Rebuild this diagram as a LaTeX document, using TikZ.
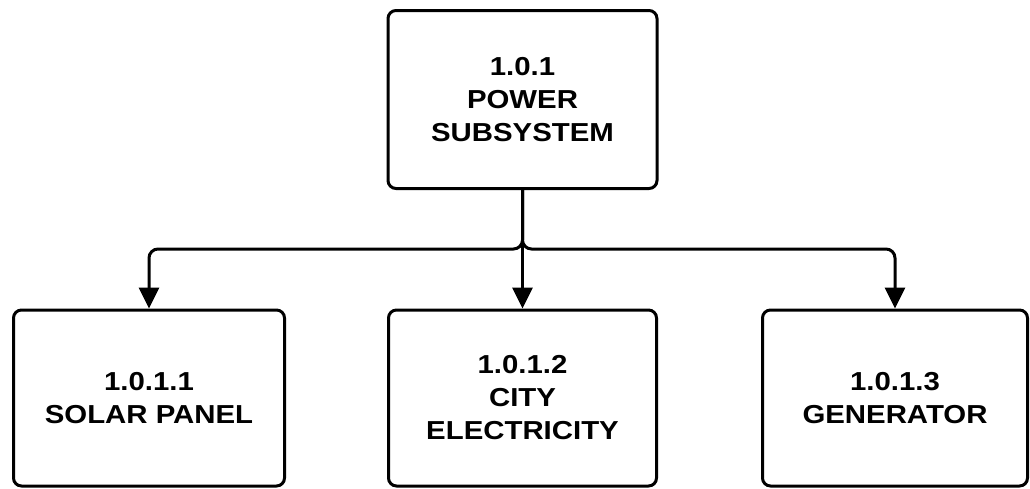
\documentclass[tikz,border=0pt]{standalone}
\usepackage{fontspec}
\newfontfamily\labfont{Liberation Sans Bold}[FakeStretch=1.13]
\usetikzlibrary{arrows.meta}
\tikzset{
  box/.style={draw=black, line width=3pt, rounded corners=8pt, align=center,
    inner sep=0pt, font=\labfont\fontsize{26}{33}\selectfont, text=black},
  conn/.style={draw=black, line width=3pt, rounded corners=9pt,
    -{Triangle[width=20pt,length=21pt]}}
}
\begin{document}
\begin{tikzpicture}[x=1pt,y=-1pt]
\useasboundingbox[fill=white] (0,0) rectangle (1030,488);
\node[box, minimum width=269pt, minimum height=178pt] (top) at (522.5,99.5) {1.0.1\\POWER\\SUBSYSTEM};
\node[box, minimum width=271pt, minimum height=176pt] (solar) at (149,398) {1.0.1.1\\SOLAR PANEL};
\node[box, minimum width=268pt, minimum height=176pt] (city) at (522.5,398) {1.0.1.2\\CITY\\ELECTRICITY};
\node[box, minimum width=265pt, minimum height=176pt] (gen) at (895,398) {1.0.1.3\\GENERATOR};
\coordinate (hub) at (522.5,249);
\draw[conn] (top.south) -- (hub) -| (solar.north);
\draw[conn] (top.south) -- (hub) -| (gen.north);
\draw[conn, rounded corners=0pt] (top.south) -- (city.north);
\end{tikzpicture}
\end{document}
